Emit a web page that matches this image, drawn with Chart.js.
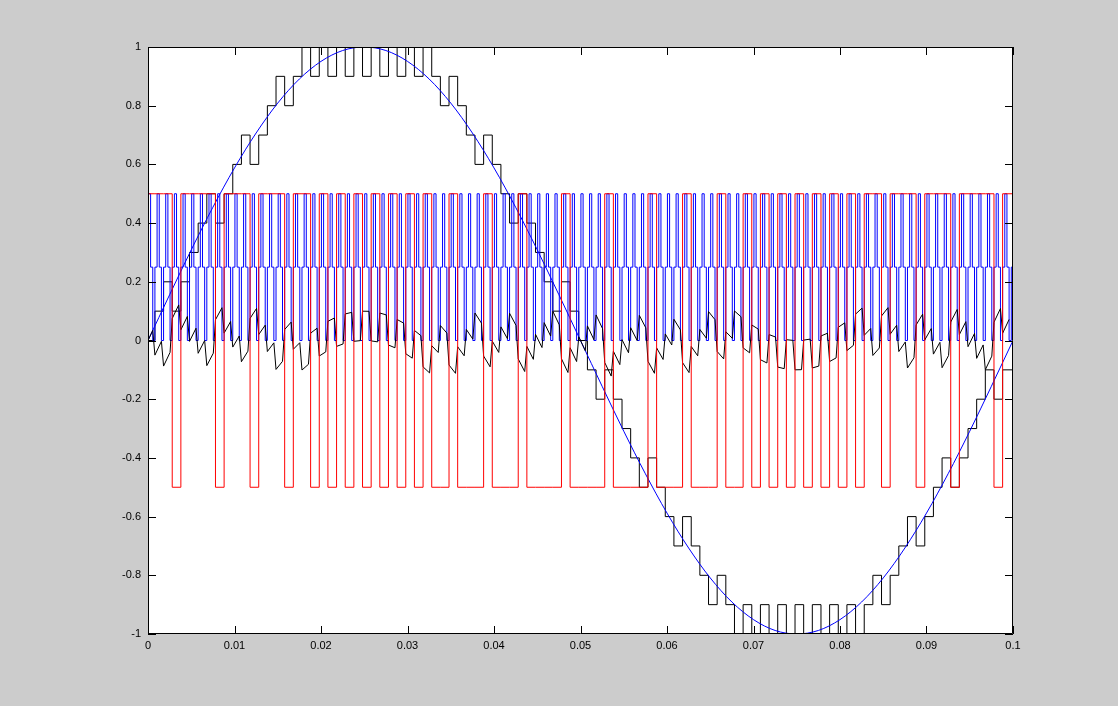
<!DOCTYPE html>
<html>
<head>
<meta charset="utf-8">
<script src="https://cdn.jsdelivr.net/npm/chart.js@4.4.0/dist/chart.umd.min.js"></script>
<style>
  html, body { margin: 0; padding: 0; background: #cccccc; }
  canvas { display: block; }
</style>
</head>
<body>
<canvas id="chart" width="1118" height="706"></canvas>
<script>
// axes
const xTicks = [0, 0.01, 0.02, 0.03, 0.04, 0.05, 0.06, 0.07, 0.08, 0.09, 0.1];
const yTicks = [-1, -0.8, -0.6, -0.4, -0.2, 0, 0.2, 0.4, 0.6, 0.8, 1];

// reference sine (blue)
const sineT = [0, 0.0025, 0.005, 0.0075, 0.01, 0.0125, 0.015, 0.0175, 0.02, 0.0225,
  0.025, 0.0275, 0.03, 0.0325, 0.035, 0.0375, 0.04, 0.0425, 0.045, 0.0475,
  0.05, 0.0525, 0.055, 0.0575, 0.06, 0.0625, 0.065, 0.0675, 0.07, 0.0725,
  0.075, 0.0775, 0.08, 0.0825, 0.085, 0.0875, 0.09, 0.0925, 0.095, 0.0975, 0.1];
const sineY = [0, 0.156, 0.309, 0.454, 0.588, 0.707, 0.809, 0.891, 0.951, 0.988,
  1, 0.988, 0.951, 0.891, 0.809, 0.707, 0.588, 0.454, 0.309, 0.156,
  0, -0.156, -0.309, -0.454, -0.588, -0.707, -0.809, -0.891, -0.951, -0.988,
  -1, -0.988, -0.951, -0.891, -0.809, -0.707, -0.588, -0.454, -0.309, -0.156, 0];

// sampled signals: one value per sample interval
const sampleStart = 0.0008;   // first sample edge
const samplePeriod = 0.001;

// quantised output (black staircase)
const stairLevels = [
  0, 0.1, 0.2, 0.1, 0.2, 0.3, 0.4, 0.5, 0.4, 0.5,
  0.6, 0.7, 0.6, 0.7, 0.8, 0.9, 0.8, 0.9, 1, 0.9,
  1, 0.9, 1, 0.9, 1, 0.9, 1, 0.9, 1, 0.9,
  1, 0.9, 1, 0.9, 0.8, 0.9, 0.8, 0.7, 0.6, 0.7,
  0.6, 0.5, 0.4, 0.5, 0.4, 0.3, 0.2, 0.1, 0.2, 0.1,
  0, -0.1, -0.2, -0.1, -0.2, -0.3, -0.4, -0.5, -0.4, -0.5,
  -0.6, -0.7, -0.6, -0.7, -0.8, -0.9, -0.8, -0.9, -1, -0.9,
  -1, -0.9, -1, -0.9, -1, -0.9, -1, -0.9, -1, -0.9,
  -1, -0.9, -1, -0.9, -0.8, -0.9, -0.8, -0.7, -0.6, -0.7,
  -0.6, -0.5, -0.4, -0.5, -0.4, -0.3, -0.2, -0.1, -0.2, -0.1
];

// up/down decision (red)
const redLevels = [
  0.5, 0.5, 0.5, -0.5, 0.5, 0.5, 0.5, 0.5, -0.5, 0.5,
  0.5, 0.5, -0.5, 0.5, 0.5, 0.5, -0.5, 0.5, 0.5, -0.5,
  0.5, -0.5, 0.5, -0.5, 0.5, -0.5, 0.5, -0.5, 0.5, -0.5,
  0.5, -0.5, 0.5, -0.5, -0.5, 0.5, -0.5, -0.5, -0.5, 0.5,
  -0.5, -0.5, -0.5, 0.5, -0.5, -0.5, -0.5, -0.5, 0.5, -0.5,
  -0.5, -0.5, -0.5, 0.5, -0.5, -0.5, -0.5, -0.5, 0.5, -0.5,
  -0.5, -0.5, 0.5, -0.5, -0.5, -0.5, 0.5, -0.5, -0.5, 0.5,
  -0.5, 0.5, -0.5, 0.5, -0.5, 0.5, -0.5, 0.5, -0.5, 0.5,
  -0.5, 0.5, -0.5, 0.5, 0.5, -0.5, 0.5, 0.5, 0.5, -0.5,
  0.5, 0.5, 0.5, -0.5, 0.5, 0.5, 0.5, 0.5, -0.5, 0.5
];

// tracking error (black, near zero): value at start and near end of each sample
const errStart = [
  0, -0.0498, -0.0871, 0.075, 0.0365, -0.0029, -0.0436, -0.0856, 0.0707, 0.0252,
  -0.0224, -0.0723, 0.0754, 0.0203, -0.0376, -0.0985, 0.0375, -0.0298, -0.1006, 0.0251,
  -0.0529, 0.0654, -0.0201, 0.0905, -0.0028, 0.0999, -0.0013, 0.0936, -0.0154, 0.0716,
  -0.0451, 0.0343, -0.0899, -0.0178, 0.051, -0.0836, -0.0214, 0.0376, 0.0937, -0.053,
  -0.0021, 0.0464, 0.0927, -0.0629, -0.0202, 0.021, 0.0608, 0.0997, -0.0622, -0.0247,
  0.0126, 0.0498, 0.0871, -0.075, -0.0365, 0.0029, 0.0436, 0.0856, -0.0707, -0.0252,
  0.0224, 0.0723, -0.0754, -0.0203, 0.0376, 0.0985, -0.0375, 0.0298, 0.1006, -0.0251,
  0.0529, -0.0654, 0.0201, -0.0905, 0.0028, -0.0999, 0.0013, -0.0936, 0.0154, -0.0716,
  0.0451, -0.0343, 0.0899, 0.0178, -0.051, 0.0836, 0.0214, -0.0376, -0.0937, 0.053,
  0.0021, -0.0464, -0.0927, 0.0629, 0.0202, -0.021, -0.0608, -0.0997, 0.0622, 0.0247
];
const errEnd = [
  0.0346, -0.0028, -0.0405, 0.1212, 0.082, 0.0417, 0, -0.0432, 0.1117, 0.0646,
  0.0153, -0.0364, 0.1093, 0.0522, -0.0079, -0.071, 0.0627, -0.0075, -0.081, 0.0419,
  -0.0388, 0.0766, -0.0118, 0.0959, -0.0004, 0.0994, -0.0047, 0.0872, -0.0248, 0.0594,
  -0.0602, 0.0165, -0.1104, -0.0408, 0.0254, -0.1118, -0.052, 0.0049, 0.059, -0.0896,
  -0.0406, 0.0063, 0.0512, -0.1057, -0.0642, -0.024, 0.0151, 0.0533, -0.109, -0.0717,
  -0.0346, 0.0028, 0.0405, -0.1212, -0.082, -0.0417, 0, 0.0432, -0.1117, -0.0646,
  -0.0153, 0.0364, -0.1093, -0.0522, 0.0079, 0.071, -0.0627, 0.0075, 0.081, -0.0419,
  0.0388, -0.0766, 0.0118, -0.0959, 0.0004, -0.0994, 0.0047, -0.0872, 0.0248, -0.0594,
  0.0602, -0.0165, 0.1104, 0.0408, -0.0254, 0.1118, 0.052, -0.0049, -0.059, 0.0896,
  0.0406, -0.0063, -0.0512, 0.1057, 0.0642, 0.024, -0.0151, -0.0533, 0.109, 0.0717
];

// carrier (blue): one sample period in four held steps
const carrierSteps = [0.25, 0.5, 0.25, 0];

function edgeAt(i) {
  return i === 0 ? 0 : sampleStart + (i - 1) * samplePeriod;
}

function stepPoints(levels) {
  const pts = levels.map((v, i) => ({ x: edgeAt(i), y: v }));
  pts.push({ x: 0.1, y: levels[levels.length - 1] });
  return pts;
}

function errorPoints() {
  const pts = [];
  errStart.forEach((v, i) => {
    pts.push({ x: edgeAt(i), y: v });
    pts.push({ x: edgeAt(i + 1) - samplePeriod / 4, y: errEnd[i] });
  });
  return pts;
}

function carrierPoints() {
  const q = samplePeriod / carrierSteps.length;
  const t0 = sampleStart - samplePeriod;
  const pts = [];
  for (let n = 0; t0 + n * q < 0.1; n++) {
    const t = t0 + n * q;
    if (t + q <= 0) continue;
    pts.push({ x: Math.max(0, t), y: carrierSteps[n % carrierSteps.length] });
  }
  pts.push({ x: 0.1, y: pts[pts.length - 1].y });
  return pts;
}

const fmtTick = v => String(Math.round(v * 1000) / 1000);

// white axes box, inward ticks on all four sides
const matlabAxes = {
  id: 'matlabAxes',
  beforeDraw(chart) {
    const a = chart.chartArea, ctx = chart.ctx;
    ctx.save();
    ctx.fillStyle = '#ffffff';
    ctx.fillRect(a.left, a.top, a.right - a.left, a.bottom - a.top);
    ctx.restore();
  },
  afterDraw(chart) {
    const a = chart.chartArea, ctx = chart.ctx;
    const xs = chart.scales.x, ys = chart.scales.y;
    const len = 8;
    ctx.save();
    ctx.strokeStyle = '#000000';
    ctx.lineWidth = 1;
    ctx.beginPath();
    ctx.rect(Math.round(a.left) + 0.5, Math.round(a.top) + 0.5, Math.round(a.right - a.left) - 1, Math.round(a.bottom - a.top) - 1);
    xTicks.forEach(v => {
      const px = Math.round(xs.getPixelForValue(v)) + 0.5;
      ctx.moveTo(px, a.bottom); ctx.lineTo(px, a.bottom - len);
      ctx.moveTo(px, a.top); ctx.lineTo(px, a.top + len);
    });
    yTicks.forEach(v => {
      const py = Math.round(ys.getPixelForValue(v)) + 0.5;
      ctx.moveTo(a.left, py); ctx.lineTo(a.left + len, py);
      ctx.moveTo(a.right, py); ctx.lineTo(a.right - len, py);
    });
    ctx.stroke();
    ctx.restore();
  }
};

const lineBase = { pointRadius: 0, borderWidth: 1, fill: false };

new Chart(document.getElementById('chart'), {
  type: 'line',
  data: {
    datasets: [
      { ...lineBase, label: 'decision', data: stepPoints(redLevels), borderColor: '#ff0000', stepped: 'before' },
      { ...lineBase, label: 'error', data: errorPoints(), borderColor: '#000000' },
      { ...lineBase, label: 'carrier', data: carrierPoints(), borderColor: '#0000ff', stepped: 'before' },
      { ...lineBase, label: 'reference', data: sineT.map((t, i) => ({ x: t, y: sineY[i] })), borderColor: '#0000ff', cubicInterpolationMode: 'monotone' },
      { ...lineBase, label: 'output', data: stepPoints(stairLevels), borderColor: '#000000', stepped: 'before' }
    ]
  },
  options: {
    responsive: false,
    animation: false,
    devicePixelRatio: 1,
    layout: { padding: { left: 0, right: 105, top: 47, bottom: 0 } },
    plugins: { legend: { display: false }, tooltip: { enabled: false } },
    scales: {
      x: {
        type: 'linear', min: 0, max: 0.1,
        afterBuildTicks: s => { s.ticks = xTicks.map(v => ({ value: v })); },
        afterFit: s => { s.height = 72; },
        grid: { display: false, drawTicks: false },
        border: { display: false },
        ticks: { color: '#000', padding: 5, maxRotation: 0, font: { family: 'Liberation Sans, Arial, sans-serif', size: 11 }, callback: fmtTick }
      },
      y: {
        type: 'linear', min: -1, max: 1,
        afterBuildTicks: s => { s.ticks = yTicks.map(v => ({ value: v })); },
        afterFit: s => { s.width = 148; },
        grid: { display: false, drawTicks: false },
        border: { display: false },
        ticks: { color: '#000', padding: 7, font: { family: 'Liberation Sans, Arial, sans-serif', size: 11 }, callback: fmtTick }
      }
    }
  },
  plugins: [matlabAxes]
});
</script>
</body>
</html>
